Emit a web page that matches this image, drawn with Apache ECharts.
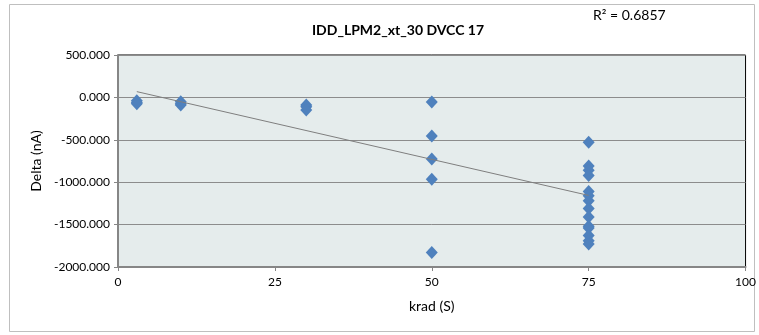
<!DOCTYPE html>
<html><head><meta charset="utf-8">
<script src="https://cdn.jsdelivr.net/npm/echarts@6/dist/echarts.min.js"></script>
<style>html,body{margin:0;padding:0;background:#fff}#c{width:759px;height:335px}</style>
</head><body><div id="c"></div>
<script>
const titleText = 'IDD_LPM2_xt_30 DVCC 17';
const r2Text = 'R\u00b2 = 0.6857';
const xName = 'krad (S)';
const yName = 'Delta (nA)';
const xTicks = [0, 25, 50, 75, 100];
const yTicks = [500, 0, -500, -1000, -1500, -2000];
const krad = [3, 3, 3, 10, 10, 10, 30, 30, 30,
  50, 50, 50, 50, 50,
  75, 75, 75, 75, 75, 75, 75, 75, 75, 75, 75, 75, 75, 75];
const delta = [-40, -60, -75, -50, -75, -90, -90, -110, -150,
  -55, -455, -725, -965, -1830,
  -530, -810, -860, -920, -1110, -1160, -1220, -1310, -1410, -1520, -1540, -1630, -1690, -1730];
const trendX = [3, 75];
const trendSlope = -17.0;
const trendIntercept = 119;

const font = 'Lato, "Liberation Sans", sans-serif';
const chart = echarts.init(document.getElementById('c'));
chart.setOption({
  animation: false,
  backgroundColor: '#fff',
  textStyle: {fontFamily: font},
  graphic: [
    {type: 'rect', shape: {x: 9.5, y: 4.5, width: 745, height: 327}, style: {fill: 'none', stroke: '#bfbfbf', lineWidth: 1}, z: -1},
    {type: 'text', left: 593, top: 8, style: {text: r2Text, font: '14px ' + font, fill: '#000'}}
  ],
  title: {text: titleText, left: 393, top: 18, textAlign: 'center',
    textStyle: {fontFamily: font, fontSize: 14, fontWeight: 'bold', color: '#000'}},
  grid: {left: 118, right: 10, top: 55, bottom: 68, show: true,
    backgroundColor: '#e5ecec', borderColor: '#000', borderWidth: 1},
  xAxis: {type: 'value', min: xTicks[0], max: xTicks[xTicks.length - 1], interval: 25,
    name: xName, nameLocation: 'middle', nameGap: 32,
    nameTextStyle: {fontFamily: font, fontSize: 14, color: '#000'},
    axisLine: {show: true, onZero: false, lineStyle: {color: '#868686', width: 2}},
    axisTick: {show: true, length: 4, lineStyle: {color: '#868686'}},
    axisLabel: {fontFamily: font, fontSize: 12, color: '#000', margin: 9},
    splitLine: {show: false}},
  yAxis: {type: 'value', min: yTicks[yTicks.length - 1], max: yTicks[0], interval: 500,
    name: yName, nameLocation: 'middle', nameGap: 72,
    nameTextStyle: {fontFamily: font, fontSize: 14, color: '#000'},
    axisLine: {show: true, onZero: false, lineStyle: {color: '#868686', width: 2}},
    axisTick: {show: true, length: 4, lineStyle: {color: '#868686'}},
    axisLabel: {fontFamily: font, fontSize: 12, color: '#000', margin: 8,
      formatter: v => v.toFixed(3)},
    splitLine: {show: true, lineStyle: {color: '#8c8c8c', width: 1}}},
  series: [
    {type: 'scatter', data: krad.map((x, i) => [x, delta[i]]), symbol: 'diamond', symbolSize: [12, 13],
      itemStyle: {color: '#4f81bd', opacity: 1}, z: 3},
    {type: 'line', data: trendX.map(x => [x, trendIntercept + trendSlope * x]), symbol: 'none',
      lineStyle: {color: '#7f7f7f', width: 1}, z: 4}
  ]
});
</script></body></html>
